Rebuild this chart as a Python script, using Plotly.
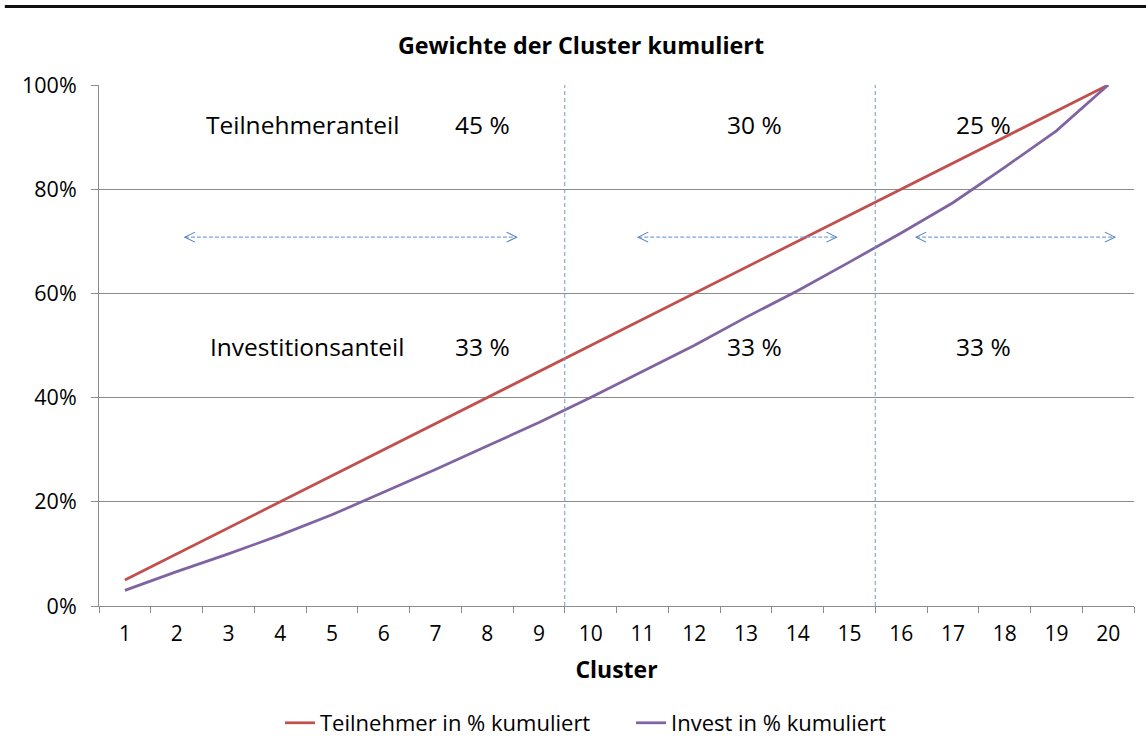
import plotly.graph_objects as go

clusters = [str(i) for i in range(1, 21)]
teilnehmer_kum = [0.05, 0.10, 0.15, 0.20, 0.25, 0.30, 0.35, 0.40, 0.45, 0.50,
                  0.55, 0.60, 0.65, 0.70, 0.75, 0.80, 0.85, 0.90, 0.95, 1.00]
invest_kum = [0.030, 0.066, 0.100, 0.136, 0.175, 0.218, 0.262, 0.307, 0.352, 0.400,
              0.450, 0.500, 0.554, 0.605, 0.660, 0.716, 0.774, 0.842, 0.912, 1.000]

# group boundaries (between clusters 9|10 and 15|16) and the share labels
group_bounds = [8.5, 14.5]
teilnehmer_anteil = ["45 %", "30 %", "25 %"]
invest_anteil = ["33 %", "33 %", "33 %"]
label_x = [6.92, 12.16, 16.60]
arrow_spans = [(1.16, 7.57), (9.92, 13.75), (15.29, 19.13)]

FONT = "Open Sans"
GRID = "#8c8c8c"
BLUE = "#4F81BD"

fig = go.Figure()
fig.add_trace(go.Scatter(x=clusters, y=teilnehmer_kum, mode="lines",
                         name="Teilnehmer in % kumuliert",
                         line=dict(color="#C0504D", width=2.75)))
fig.add_trace(go.Scatter(x=clusters, y=invest_kum, mode="lines",
                         name="Invest in % kumuliert",
                         line=dict(color="#8064A2", width=2.75)))

shapes = []
# thick rule across the top of the page
shapes.append(dict(type="line", xref="paper", yref="paper",
                   x0=-0.091, x1=1.02, y0=1.1508, y1=1.1508,
                   line=dict(color="#111111", width=3)))
# dashed group separators
for b in group_bounds:
    shapes.append(dict(type="line", xref="x", yref="y", x0=b, x1=b, y0=0, y1=1,
                       line=dict(color="#6f9bd2", width=1, dash="4px,3px")))
# double-headed dashed arrows
ay = 0.708
for x0, x1 in arrow_spans:
    shapes.append(dict(type="line", xref="x", yref="y", x0=x0, x1=x1, y0=ay, y1=ay,
                       line=dict(color="#7da4d6", width=1.2, dash="4px,2px")))
    shapes.append(dict(type="path", xref="x", yref="y", xsizemode="pixel",
                       ysizemode="pixel", xanchor=x0, yanchor=ay,
                       path="M 10 5 L 0 0 L 10 -5",
                       line=dict(color=BLUE, width=1.1)))
    shapes.append(dict(type="path", xref="x", yref="y", xsizemode="pixel",
                       ysizemode="pixel", xanchor=x1, yanchor=ay,
                       path="M -10 5 L 0 0 L -10 -5",
                       line=dict(color=BLUE, width=1.1)))

annotations = []
ann_font = dict(family=FONT, size=24.5, color="#000000")
annotations.append(dict(x=3.44, y=0.924, xref="x", yref="y", text="Teilnehmeranteil",
                        showarrow=False, font=ann_font))
annotations.append(dict(x=3.52, y=0.4976, xref="x", yref="y", text="Investitionsanteil",
                        showarrow=False, font=ann_font))
for lx, t in zip(label_x, teilnehmer_anteil):
    annotations.append(dict(x=lx, y=0.924, xref="x", yref="y", text=t,
                            showarrow=False, font=ann_font))
for lx, t in zip(label_x, invest_anteil):
    annotations.append(dict(x=lx, y=0.4976, xref="x", yref="y", text=t,
                            showarrow=False, font=ann_font))

fig.update_layout(
    width=1146, height=742,
    margin=dict(l=99, r=12, t=85, b=136, autoexpand=False),
    paper_bgcolor="white", plot_bgcolor="white",
    font=dict(family=FONT, size=20, color="#000000"),
    title=dict(text="<b>Gewichte der Cluster kumuliert</b>",
               x=581 / 1146, xanchor="center", xref="container",
               y=1 - 46 / 742, yanchor="middle", yref="container",
               font=dict(family=FONT, size=23.3, color="#000000")),
    showlegend=True,
    legend=dict(orientation="h", x=280 / 1146, xanchor="left", xref="container",
                y=1 - 723 / 742, yanchor="middle", yref="container",
                font=dict(family=FONT, size=22, color="#000000"),
                itemwidth=30, entrywidth=306, entrywidthmode="pixels",
                bgcolor="rgba(0,0,0,0)"),
    shapes=shapes,
    annotations=annotations,
)

fig.update_xaxes(
    type="category", tickson="boundaries", range=[-0.5, 19.5],
    showline=True, linecolor=GRID, linewidth=1,
    ticks="outside", ticklen=6, tickcolor=GRID, tickwidth=1,
    showgrid=False, zeroline=False, automargin=False,
    tickfont=dict(family=FONT, size=21),
    ticklabelstandoff=9,
    title=dict(text="<b>Cluster</b>", font=dict(family=FONT, size=23), standoff=15),
)
fig.update_yaxes(
    range=[0, 1], dtick=0.2, tickformat=".0%",
    showline=True, linecolor=GRID, linewidth=1,
    ticks="outside", ticklen=7, tickcolor=GRID, tickwidth=1,
    showgrid=True, gridcolor=GRID, gridwidth=1, zeroline=False, automargin=False,
    tickfont=dict(family=FONT, size=21.5),
    ticklabelstandoff=10,
)

fig.write_html("out.html")
